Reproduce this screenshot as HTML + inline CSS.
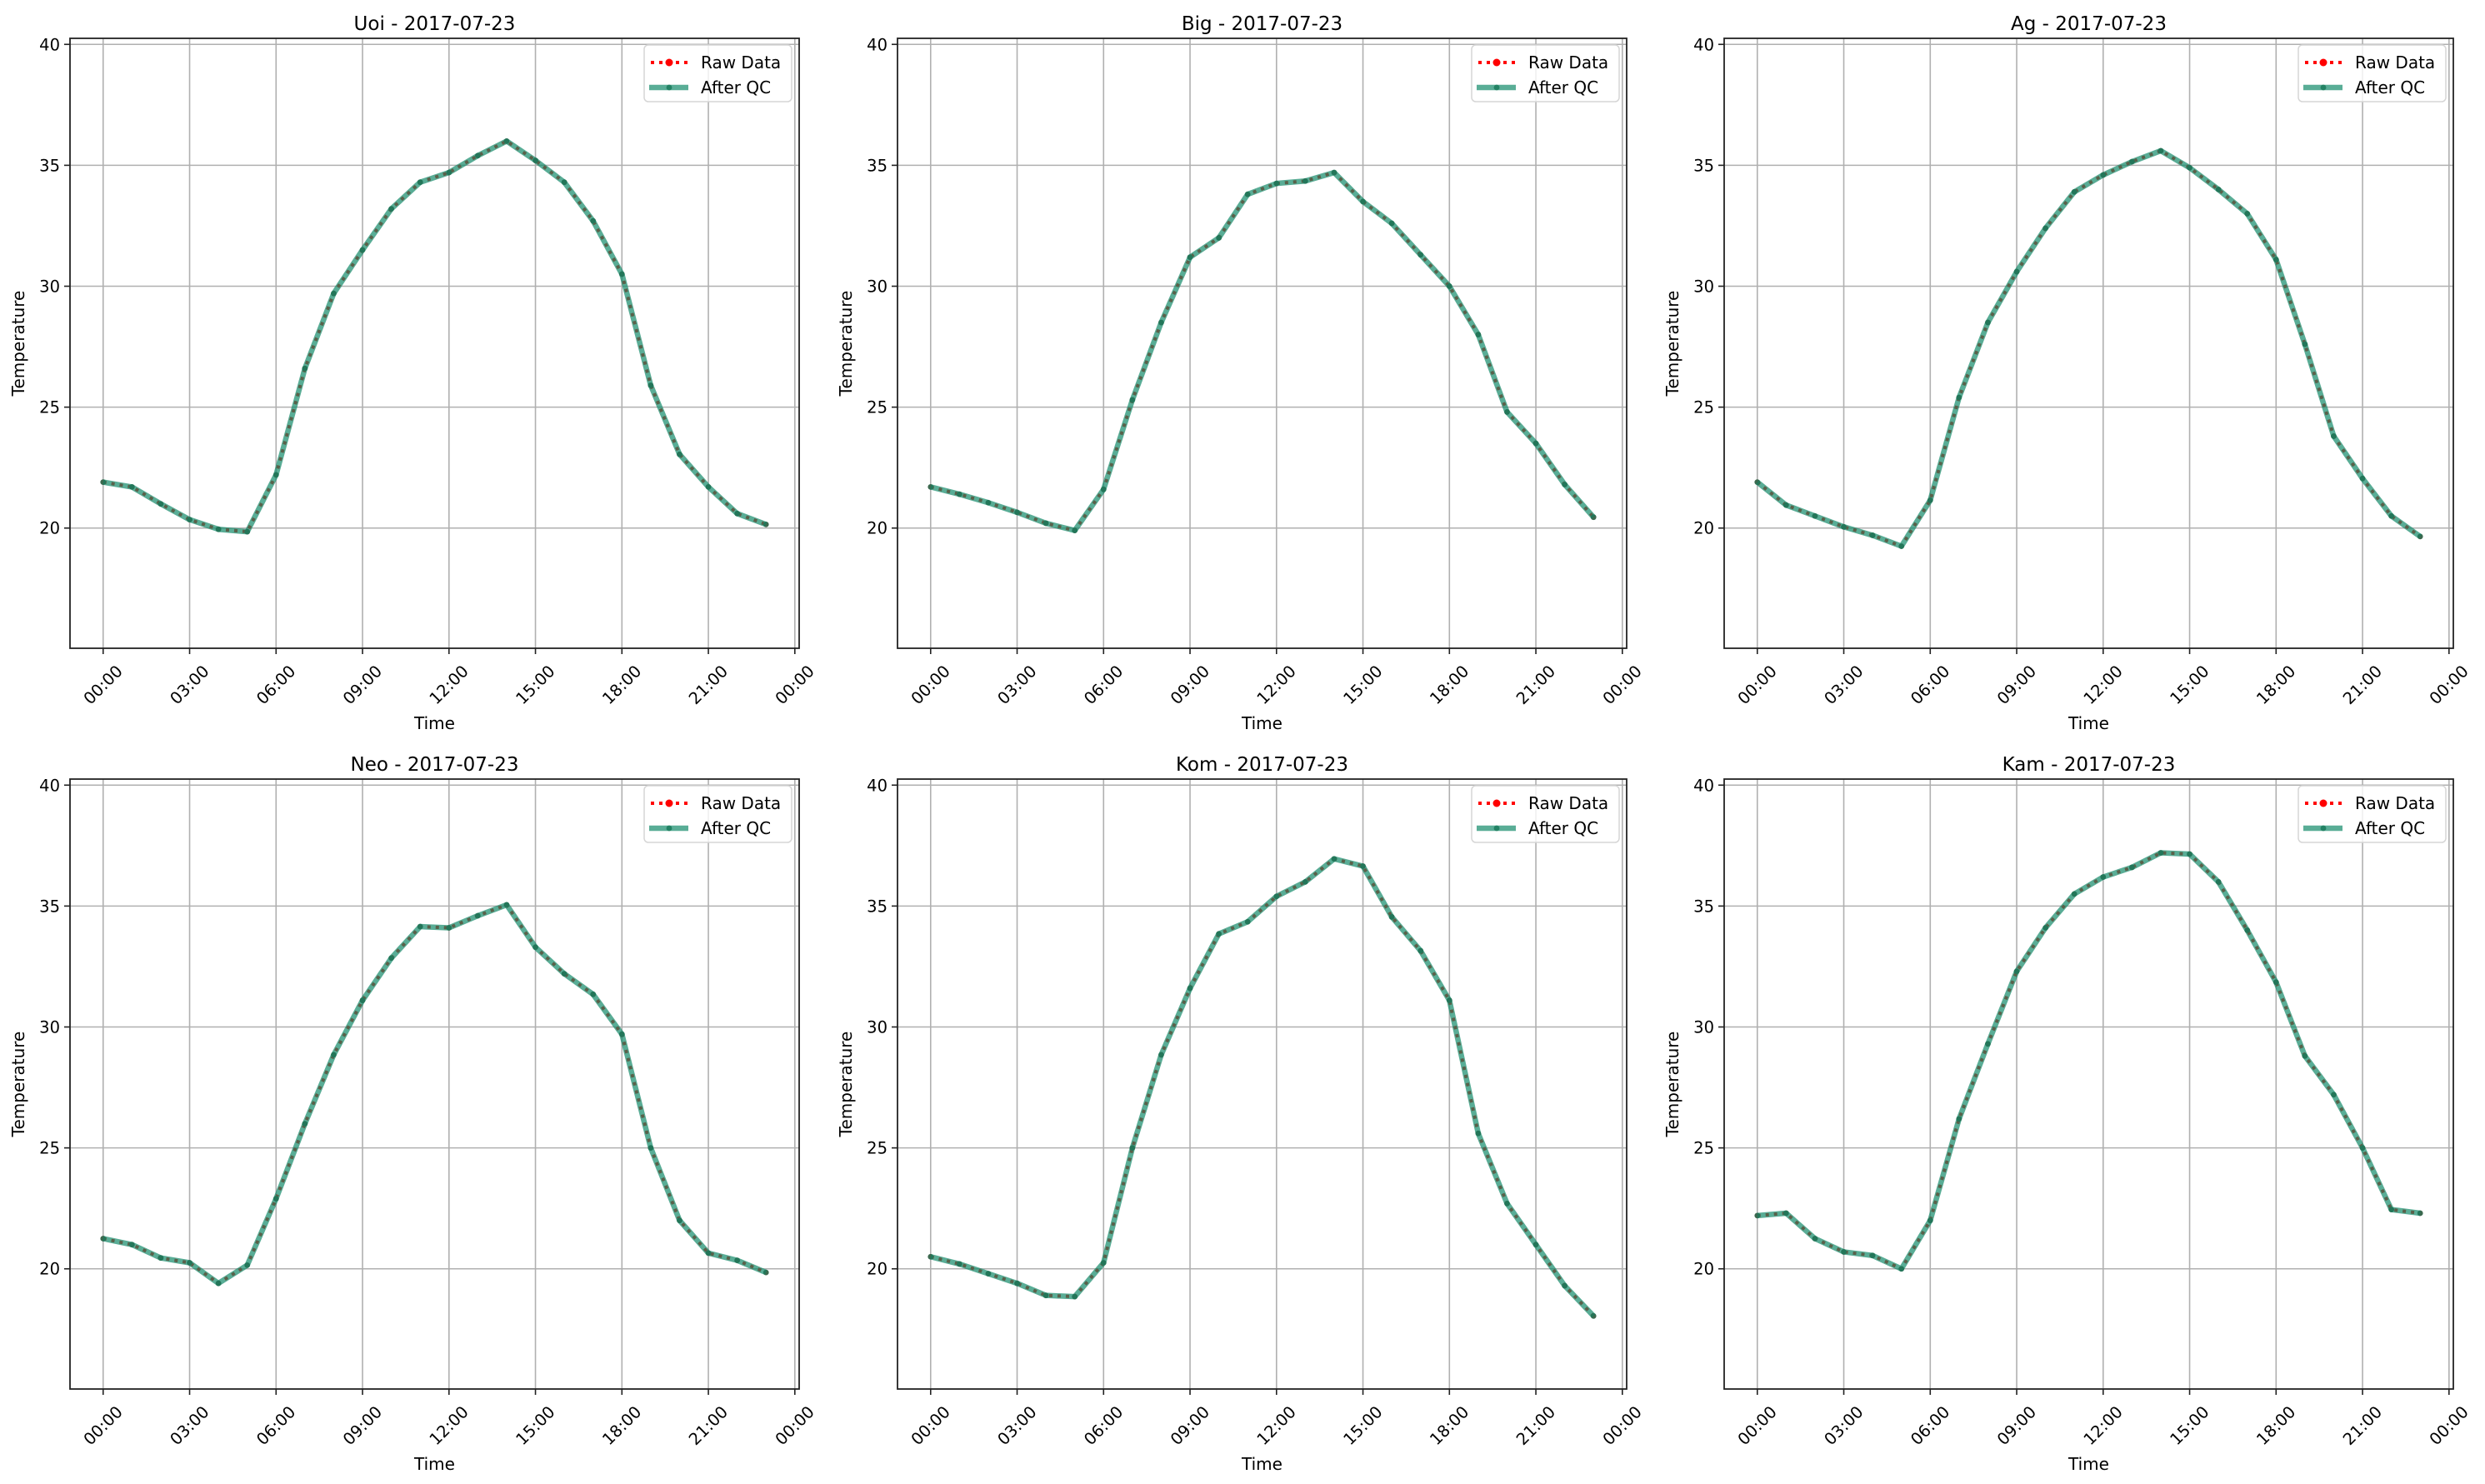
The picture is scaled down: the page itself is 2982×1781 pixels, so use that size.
<!DOCTYPE html>
<html><head><meta charset="utf-8"><style>
html,body{margin:0;padding:0;background:#fff}
svg{display:block;font-family:"DejaVu Sans","Liberation Sans",sans-serif}
</style></head><body>
<svg id="fig" width="2982" height="1781" viewBox="0 0 2982 1781" xmlns="http://www.w3.org/2000/svg"></svg>
<script>
const stations = ["Uoi","Big","Ag","Neo","Kom","Kam"];
const dateLabel = "2017-07-23";
const hours = [0,1,2,3,4,5,6,7,8,9,10,11,12,13,14,15,16,17,18,19,20,21,22,23];
const uoiTemp = [21.9,21.7,21.0,20.35,19.95,19.85,22.2,26.6,29.7,31.5,33.2,34.3,34.7,35.4,36.0,35.2,34.3,32.7,30.5,25.9,23.05,21.7,20.6,20.15];
const bigTemp = [21.7,21.4,21.05,20.65,20.2,19.9,21.6,25.3,28.5,31.2,32.0,33.8,34.25,34.35,34.7,33.5,32.6,31.3,30.0,28.0,24.8,23.5,21.8,20.45];
const agTemp  = [21.9,20.95,20.5,20.05,19.7,19.25,21.15,25.4,28.5,30.6,32.4,33.9,34.6,35.15,35.6,34.9,34.0,33.0,31.1,27.6,23.8,22.05,20.5,19.65];
const neoTemp = [21.25,21.0,20.45,20.25,19.4,20.15,22.9,26.0,28.85,31.1,32.85,34.15,34.1,34.6,35.05,33.3,32.2,31.35,29.7,25.0,22.0,20.65,20.35,19.85];
const komTemp = [20.5,20.2,19.8,19.4,18.9,18.85,20.25,25.0,28.85,31.6,33.85,34.35,35.4,36.0,36.95,36.65,34.55,33.15,31.1,25.6,22.7,21.0,19.3,18.05];
const kamTemp = [22.2,22.3,21.25,20.7,20.55,20.0,22.0,26.2,29.3,32.3,34.1,35.5,36.2,36.6,37.2,37.15,36.0,34.0,31.85,28.8,27.2,25.0,22.45,22.3];
const rawSeries = [uoiTemp,bigTemp,agTemp,neoTemp,komTemp,kamTemp];
const qcSeries = [uoiTemp,bigTemp,agTemp,neoTemp,komTemp,kamTemp];
const yTicks = [20,25,30,35,40];
const xTicks = [0,3,6,9,12,15,18,21,24];
const xTickLabels = ["00:00","03:00","06:00","09:00","12:00","15:00","18:00","21:00","00:00"];

const NS="http://www.w3.org/2000/svg";
const svg=document.getElementById('fig');
function mk(tag,attrs,parent){const e=document.createElementNS(NS,tag);for(const k in attrs)e.setAttribute(k,attrs[k]);(parent||svg).appendChild(e);return e;}
const colX=[84,1077,2069], rowY=[46,935], W=875, H=732;
const X0=-1.15, X1=24.15, Y0=15.03, Y1=40.25;
const GREEN="#138a6a";

stations.forEach((st,i)=>{
  const L=colX[i%3], T=rowY[Math.floor(i/3)];
  const xs=h=>L+(h-X0)/(X1-X0)*W;
  const ys=v=>T+H-(v-Y0)/(Y1-Y0)*H;
  const g=mk('g',{});
  
  
  xTicks.forEach(h=>{const l=mk('line',{x1:xs(h),x2:xs(h),y1:T,y2:T+H,stroke:'#b0b0b0','stroke-width':1.6},g);});
  yTicks.forEach(v=>{const l=mk('line',{x1:L,x2:L+W,y1:ys(v),y2:ys(v),stroke:'#b0b0b0','stroke-width':1.6},g);});
  const raw=rawSeries[i], qc=qcSeries[i];
  const rp=hours.map((h,k)=>xs(h)+','+ys(raw[k])).join(' ');
  const rl=mk('polyline',{points:rp,fill:'none',stroke:'#ff0000','stroke-width':4,'stroke-dasharray':'4 6'},g);
  
  hours.forEach((h,k)=>{const c=mk('circle',{cx:xs(h),cy:ys(raw[k]),r:3.2,fill:'#ff0000'},g);});
  const qp=hours.map((h,k)=>xs(h)+','+ys(qc[k])).join(' ');
  const ql=mk('polyline',{points:qp,fill:'none',stroke:GREEN,'stroke-width':6.5,'stroke-opacity':0.7,'stroke-linejoin':'round'},g);
  
  hours.forEach((h,k)=>{const c=mk('circle',{cx:xs(h),cy:ys(qc[k]),r:3.4,fill:'#1a7a5c','fill-opacity':0.85},g);});
  const fr=mk('rect',{x:L,y:T,width:W,height:H,fill:'none',stroke:'#222','stroke-width':1.8},g);
  
  yTicks.forEach(v=>{
    mk('line',{x1:L-7,x2:L,y1:ys(v),y2:ys(v),stroke:'#222','stroke-width':1.6},g);
    const t=mk('text',{x:L-12,y:ys(v)+7,'text-anchor':'end','font-size':19.5,fill:'#000'},g);t.textContent=v;
    
  });
  xTicks.forEach((h,k)=>{
    mk('line',{x1:xs(h),x2:xs(h),y1:T+H,y2:T+H+7,stroke:'#222','stroke-width':1.6},g);
    const cx=xs(h), cy=T+H+44;
    const t=mk('text',{x:cx,y:cy,'text-anchor':'middle','dominant-baseline':'central','font-size':19.5,fill:'#000',transform:`rotate(-45 ${cx} ${cy})`},g);
    t.textContent=xTickLabels[k];
    
  });
  const xl=mk('text',{x:L+W/2,y:T+H+97,'text-anchor':'middle','font-size':20,fill:'#000'},g);xl.textContent='Time';
  
  const yx=L-55, yy=T+H/2;
  const yl=mk('text',{x:yx,y:yy,'text-anchor':'middle','font-size':20,fill:'#000',transform:`rotate(-90 ${yx} ${yy})`},g);yl.textContent='Temperature';
  
  const tt=mk('text',{x:L+W/2,y:T-10,'text-anchor':'middle','font-size':23,fill:'#000'},g);tt.textContent=st+' - '+dateLabel;
  
  const lg=mk('g',{},g);
  
  const lx=L+W-186, ly=T+8;
  mk('rect',{x:lx,y:ly,width:177,height:68,rx:5,fill:'#fff','fill-opacity':0.8,stroke:'#d6d6d6','stroke-width':1.5},lg);
  mk('line',{x1:lx+8,x2:lx+52,y1:ly+21,y2:ly+21,stroke:'#ff0000','stroke-width':4,'stroke-dasharray':'4 6'},lg);
  mk('circle',{cx:lx+30,cy:ly+21,r:4.5,fill:'#ff0000'},lg);
  const t1=mk('text',{x:lx+68,y:ly+28,'font-size':20,fill:'#000'},lg);t1.textContent='Raw Data';
  
  mk('line',{x1:lx+6,x2:lx+53,y1:ly+51,y2:ly+51,stroke:GREEN,'stroke-width':6.5,'stroke-opacity':0.7},lg);
  mk('circle',{cx:lx+30,cy:ly+51,r:3.4,fill:'#1a7a5c','fill-opacity':0.85},lg);
  const t2=mk('text',{x:lx+68,y:ly+58,'font-size':20,fill:'#000'},lg);t2.textContent='After QC';
  
});
</script>
</body></html>
